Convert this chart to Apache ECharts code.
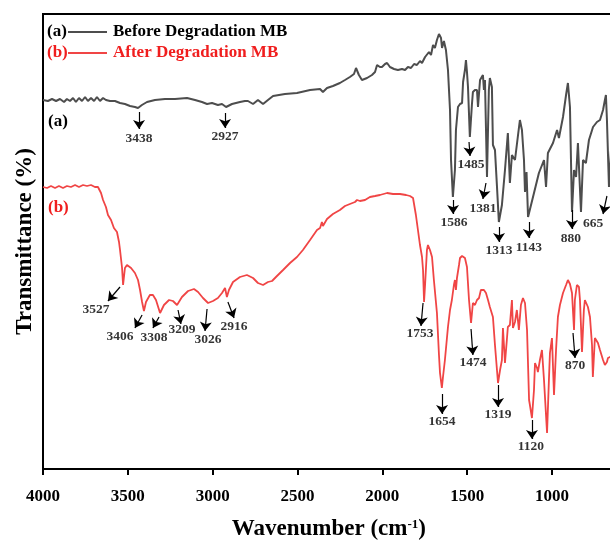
<!DOCTYPE html>
<html><head><meta charset="utf-8">
<script src="https://cdn.jsdelivr.net/npm/echarts/dist/echarts.min.js"></script>
<style>html,body{margin:0;padding:0;background:#fff}#c{width:610px;height:542px}</style>
</head><body><div id="c"></div>
<script>
// ---- Data ----
const seriesNames = ['Before Degradation MB', 'After Degradation MB'];
const xTicks = [4000, 3500, 3000, 2500, 2000, 1500, 1000];

const wavenumberA = [4000,3971,3947,3923,3900,3876,3859,3841,3823,3806,3788,3770,3752,3735,3717,3699,3682,3664,3646,3629,3605,3576,3546,3517,3487,3458,3440,3417,3387,3340,3281,3222,3151,3104,3063,3033,3004,2969,2945,2921,2886,2839,2810,2792,2762,2733,2703,2674,2644,2574,2503,2426,2367,2350,2326,2291,2250,2220,2191,2167,2155,2138,2120,2090,2061,2043,2031,2014,2002,1984,1972,1955,1931,1908,1884,1866,1849,1831,1813,1796,1778,1766,1748,1737,1725,1713,1701,1690,1678,1666,1654,1648,1637,1625,1613,1601,1595,1584,1572,1566,1554,1542,1530,1524,1513,1507,1501,1495,1484,1472,1466,1454,1442,1436,1424,1413,1407,1401,1395,1383,1372,1366,1354,1348,1336,1324,1313,1295,1277,1260,1248,1236,1230,1218,1200,1189,1177,1165,1159,1150,1141,1106,1077,1047,1035,1024,994,970,959,935,917,906,894,882,870,858,847,829,817,800,782,758,735,717,699,688,682,676,664,652];
const transA = [369,368,370,368,370,367,370,368,371,367,371,368,372,368,371,368,372,368,371,369,368,368,366,365,363,362,361,364,367,369,370,370,371,369,367,365,366,364,365,362,365,367,368,368,365,369,365,369,373,375,376,379,380,377,381,383,386,389,392,395,401,394,389,391,394,397,404,402,402,405,406,402,400,399,400,399,402,401,405,404,408,406,412,410,417,414,424,421,429,435,431,421,428,419,399,359,309,272,299,339,362,365,366,387,399,409,397,382,332,364,377,379,379,362,389,391,394,379,389,292,379,391,382,324,319,282,247,264,299,336,286,314,316,309,334,349,339,309,277,297,252,276,296,309,282,316,326,339,331,352,374,386,362,257,299,292,326,257,309,306,329,342,347,349,359,369,374,349,282,319];

const wavenumberB = [4000,3976,3953,3929,3906,3882,3859,3835,3811,3788,3764,3741,3717,3694,3676,3658,3646,3629,3617,3599,3582,3564,3552,3546,3534,3528,3517,3505,3481,3458,3440,3428,3416,3405,3393,3370,3352,3334,3310,3287,3257,3234,3210,3181,3145,3110,3086,3057,3027,2998,2969,2945,2927,2916,2904,2880,2839,2798,2762,2733,2703,2674,2650,2621,2585,2544,2503,2468,2426,2385,2367,2356,2350,2326,2291,2250,2220,2191,2161,2149,2132,2102,2073,2043,2014,1972,1937,1896,1860,1837,1819,1802,1790,1778,1766,1760,1754,1748,1737,1731,1719,1707,1696,1678,1666,1660,1649,1643,1631,1619,1613,1601,1590,1578,1572,1566,1560,1548,1542,1530,1519,1513,1501,1489,1477,1466,1454,1442,1430,1419,1413,1401,1389,1377,1366,1348,1336,1318,1306,1295,1289,1277,1266,1260,1248,1236,1230,1218,1207,1195,1183,1171,1159,1147,1135,1130,1118,1106,1100,1088,1083,1071,1059,1047,1029,1018,1012,1000,988,976,965,953,935,917,906,894,882,870,865,853,841,835,823,812,806,788,776,764,759,747,729,717,699,688,676,670,658,647];
const transB = [282,281,283,281,283,281,283,282,284,282,284,283,284,282,282,276,269,262,254,249,241,237,227,219,201,184,201,204,201,196,189,179,167,158,167,174,174,169,156,164,169,168,164,172,178,180,177,171,166,168,171,176,181,172,179,187,192,194,191,186,184,187,188,193,199,206,212,219,229,239,241,247,243,250,255,259,263,265,267,269,268,269,272,273,274,276,275,275,274,273,271,254,239,224,212,199,167,184,219,224,219,212,189,156,114,96,81,91,109,131,142,159,169,184,189,179,191,204,211,213,215,211,202,169,146,166,164,169,171,179,181,179,176,169,162,152,124,86,99,109,141,106,129,142,144,169,141,147,159,139,164,171,166,139,69,64,51,79,106,101,97,109,119,89,36,89,116,131,74,119,152,164,176,184,189,185,176,139,169,184,182,169,117,159,169,162,152,124,92,131,126,119,109,104,107,111,112,114];

// peak annotations: label text, label position [wn, value], arrow start, arrow tip
const peakLabelsA = ['3438','2927','1586','1485','1381','1313','1143','880','665'];
const labelPosA = [[3434,330],[2927,332],[1578,246],[1477,304],[1407,260],[1312,218],[1136,221],[888,230],[758,245]];
const arrowFromA = [[3434,357],[2927,356],[1583,269],[1489,327],[1389,286],[1312,242],[1136,247],[882,259],[676,273]];
const arrowToA = [[3434,340],[2927,341],[1583,255],[1483,313],[1407,270],[1312,227],[1136,231],[882,240],[699,255]];

const peakLabelsB = ['3527','3406','3308','3209','3026','2916','1753','1654','1474','1319','1120','870'];
const labelPosB = [[3688,159],[3546,132],[3346,131],[3181,139],[3027,129],[2874,142],[1778,135],[1648,47],[1466,106],[1318,54],[1124,22],[864,103]];
const arrowFromB = [[3546,182],[3416,154],[3316,152],[3204,159],[3033,160],[2910,167],[1760,166],[1648,75],[1477,140],[1318,84],[1118,49],[876,136]];
const arrowToB = [[3617,168],[3458,141],[3352,141],[3187,145],[3045,138],[2874,151],[1772,143],[1648,55],[1466,114],[1318,62],[1118,30],[864,111]];

// ---- Build ----
const FONT = '"Liberation Serif", "Times New Roman", serif';
const GRAY = '#4d4d4d', RED = '#f04545', RED_TEXT = '#f01e1e';
const zip = (xs, ys) => xs.map((x, i) => [x, ys[i]]);
const labelData = peakLabelsA.concat(peakLabelsB).map((t, i) => {
  const p = labelPosA.concat(labelPosB)[i];
  return [p[0], p[1], t];
});
const arrows = arrowFromA.concat(arrowFromB).map((f, i) => [
  {coord: f}, {coord: arrowToA.concat(arrowToB)[i]}
]);

const chart = echarts.init(document.getElementById('c'), null, {renderer: 'canvas'});
chart.setOption({
  animation: false,
  backgroundColor: '#fff',
  grid: {left: 43, top: 14, width: 593.8, height: 455, show: true, borderColor: '#000', borderWidth: 2,
    containLabel: false, outerBoundsMode: 'none'},
  xAxis: {
    type: 'value', inverse: true, min: 500, max: 4000, interval: 500,
    name: 'Wavenumber (cm{sup|-1})', nameLocation: 'middle', nameGap: 49,
    nameTextStyle: {fontFamily: FONT, fontWeight: 'bold', fontSize: 23, color: '#000', padding: [0, 22, 0, 0],
      rich: {sup: {fontFamily: FONT, fontWeight: 'bold', fontSize: 13, color: '#000', verticalAlign: 'top', padding: [0, 0, 10, 0]}}},
    axisLine: {show: true, lineStyle: {color: '#000', width: 2}},
    axisTick: {show: true, length: 6, lineStyle: {color: '#000', width: 2}},
    axisLabel: {fontFamily: FONT, fontWeight: 'bold', fontSize: 17, color: '#000', margin: 19,
      formatter: v => xTicks.indexOf(v) >= 0 ? String(v) : ''},
    splitLine: {show: false}
  },
  yAxis: {
    type: 'value', min: 0, max: 455,
    name: 'Transmittance (%)', nameLocation: 'middle', nameGap: 6, nameRotate: 90,
    nameTextStyle: {fontFamily: FONT, fontWeight: 'bold', fontSize: 23, color: '#000'},
    axisLine: {show: true, lineStyle: {color: '#000', width: 2}},
    axisTick: {show: false}, axisLabel: {show: false}, splitLine: {show: false}
  },
  series: [
    {name: seriesNames[0], type: 'line', data: zip(wavenumberA, transA), symbol: 'none', smooth: false,
      lineStyle: {color: GRAY, width: 2}, z: 3},
    {name: seriesNames[1], type: 'line', data: zip(wavenumberB, transB), symbol: 'none', smooth: false,
      lineStyle: {color: RED, width: 1.8}, z: 3},
    {name: 'peaks', type: 'scatter', data: labelData, symbolSize: 0, silent: true, z: 5,
      itemStyle: {color: 'rgba(0,0,0,0)'},
      label: {show: true, position: 'inside', formatter: p => p.value[2],
        fontFamily: FONT, fontWeight: 'bold', fontSize: 13.5, color: '#000'},
      markLine: {silent: true, symbol: ['none', 'arrow'], symbolSize: 9, animation: false,
        lineStyle: {color: '#000', width: 1.2, type: 'solid'}, label: {show: false},
        emphasis: {disabled: true}, data: arrows}}
  ],
  graphic: [
    {type: 'text', left: 47, top: 23, style: {text: '(a)', font: 'bold 17px ' + FONT, fill: '#000'}},
    {type: 'line', shape: {x1: 68, y1: 32, x2: 107, y2: 32}, style: {stroke: GRAY, lineWidth: 2}},
    {type: 'text', left: 113, top: 23, style: {text: 'Before Degradation MB', font: 'bold 17px ' + FONT, fill: '#000'}},
    {type: 'text', left: 47, top: 44, style: {text: '(b)', font: 'bold 17px ' + FONT, fill: RED_TEXT}},
    {type: 'line', shape: {x1: 68, y1: 53, x2: 107, y2: 53}, style: {stroke: RED, lineWidth: 2}},
    {type: 'text', left: 113, top: 44, style: {text: 'After Degradation MB', font: 'bold 17px ' + FONT, fill: RED_TEXT}},
    {type: 'text', left: 48, top: 113, style: {text: '(a)', font: 'bold 17px ' + FONT, fill: '#000'}},
    {type: 'text', left: 48, top: 199, style: {text: '(b)', font: 'bold 17px ' + FONT, fill: RED_TEXT}}
  ]
});
</script></body></html>
